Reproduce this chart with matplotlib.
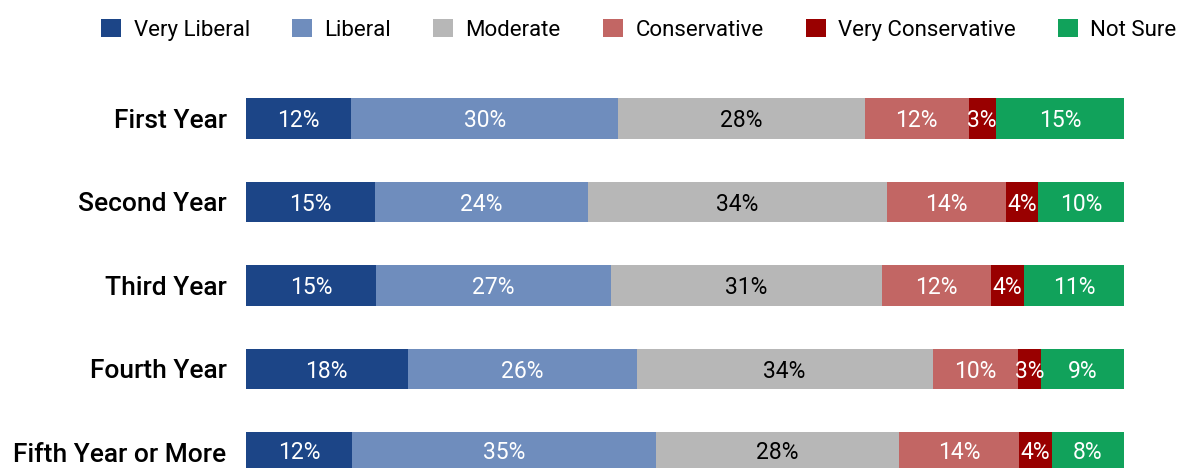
import numpy as np
import matplotlib.pyplot as plt
from matplotlib.patches import Patch

plt.rcParams['font.family'] = ['Roboto', 'DejaVu Sans']

years = ['First Year', 'Second Year', 'Third Year', 'Fourth Year', 'Fifth Year or More']
groups = ['Very Liberal', 'Liberal', 'Moderate', 'Conservative', 'Very Conservative', 'Not Sure']
colors = ['#1c4587', '#6f8dbd', '#b7b7b7', '#c26664', '#990000', '#11a25b']
text_colors = ['white', 'white', 'black', 'white', 'white', 'white']

very_liberal = [12.0, 14.7, 14.8, 18.4, 12.1]
liberal = [30.4, 24.3, 26.8, 26.1, 34.6]
moderate = [28.1, 34.0, 30.8, 33.7, 27.7]
conservative = [11.8, 13.6, 12.4, 9.7, 13.6]
very_conservative = [3.1, 3.6, 3.8, 2.7, 3.8]
not_sure = [14.6, 9.8, 11.4, 9.4, 8.2]

series = [very_liberal, liberal, moderate, conservative, very_conservative, not_sure]

fig = plt.figure(figsize=(11.8, 4.68), dpi=100)
ax = fig.add_axes([246 / 1180, 0, 878 / 1180, 1])

y = np.arange(len(years))
left = np.zeros(len(years))
for vals, col, tcol in zip(series, colors, text_colors):
    vals = np.array(vals)
    bars = ax.barh(y, vals, left=left, height=0.49, color=col, edgecolor='none')
    txts = ax.bar_label(bars, labels=[f'{v:.0f}%' for v in vals], label_type='center',
                        color=tcol, fontsize=16.5)
    for t in txts:
        t.set_va('center_baseline')
    left += vals

ax.set_xlim(0, 100)
ax.set_ylim(4.186, -1.419)
ax.set_yticks(y)
ax.set_yticklabels(years, fontsize=19, fontweight='medium')
ax.tick_params(axis='y', length=0, pad=14)
ax.set_xticks([])
for s in ax.spines.values():
    s.set_visible(False)

handles = [Patch(facecolor=c, edgecolor='none') for c in colors]
fig.legend(handles, groups, loc='center', bbox_to_anchor=(0.5415, 1 - 30 / 468), ncol=6,
           frameon=False, fontsize=16, handlelength=0.9, handleheight=0.9,
           handletextpad=0.55, columnspacing=1.9)

fig.savefig('out.png', dpi=100)
